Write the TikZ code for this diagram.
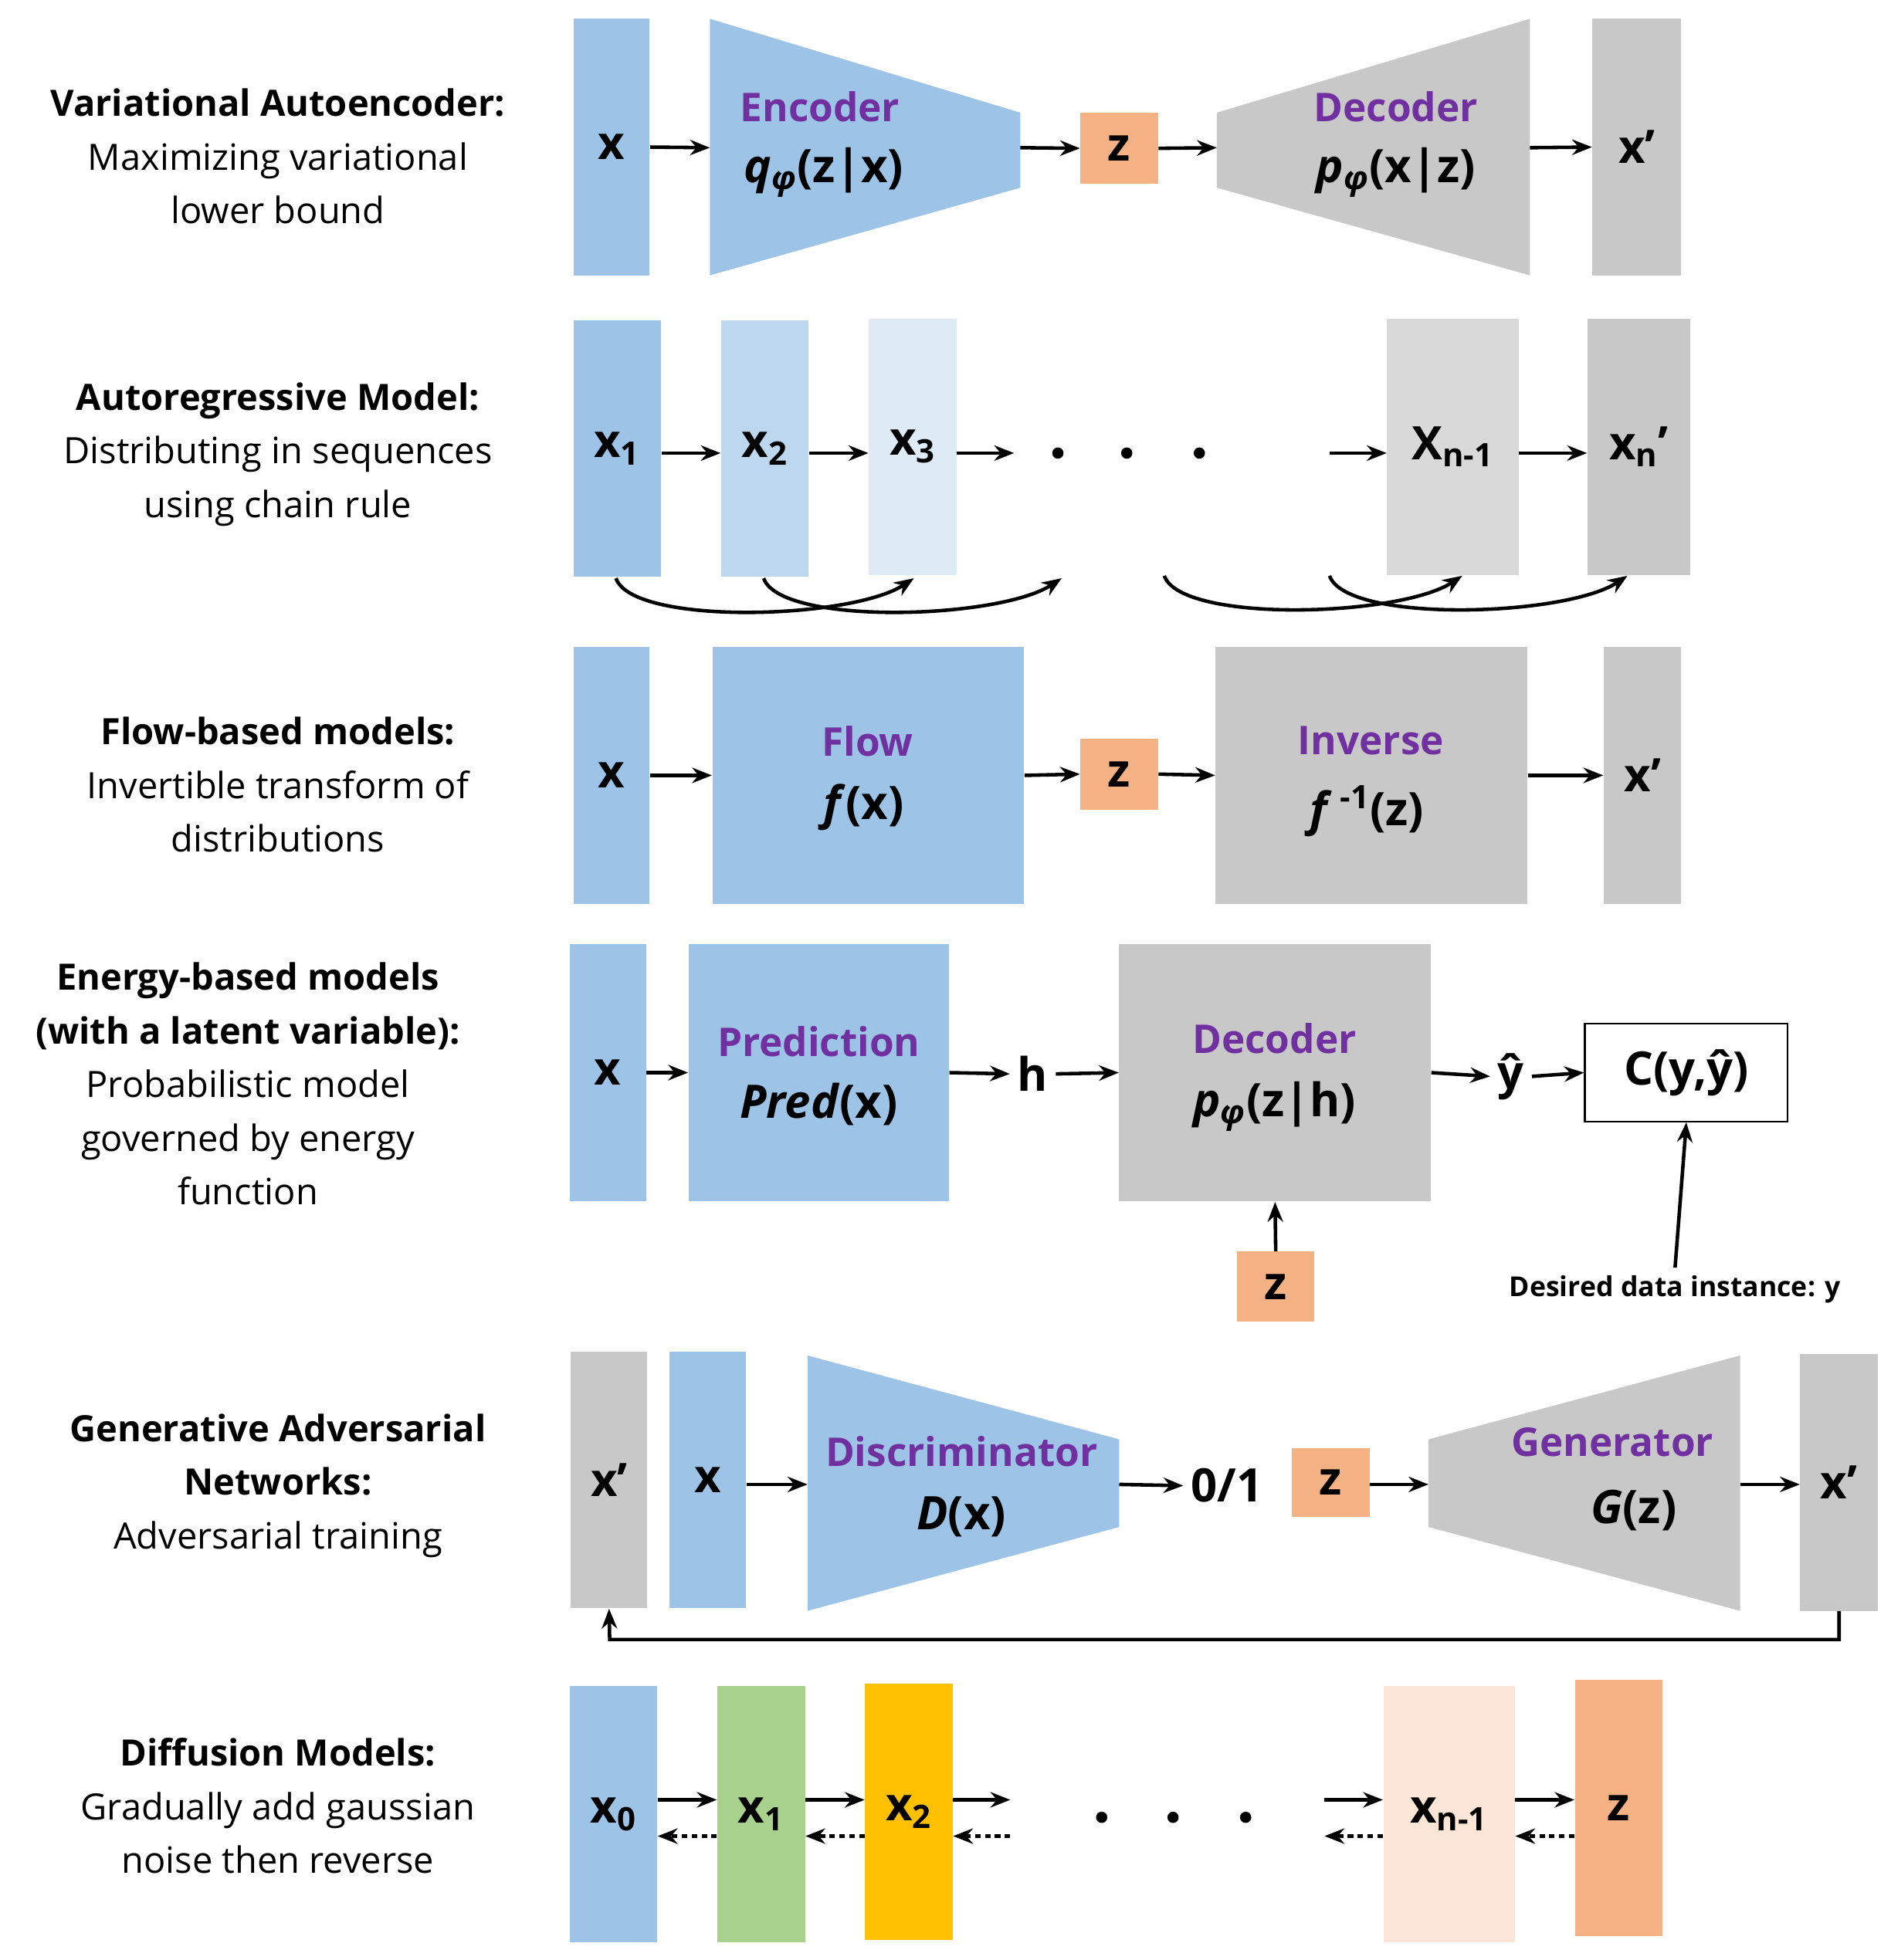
\documentclass[tikz,border=0pt]{standalone}
\usepackage{fontspec}
\setmainfont{Open Sans}
\usetikzlibrary{arrows.meta}
\definecolor{cblue}{HTML}{9DC3E6}
\definecolor{cblue2}{HTML}{BDD7EE}
\definecolor{cblue3}{HTML}{DEEBF7}
\definecolor{cgray}{HTML}{C8C8C8}
\definecolor{cgray2}{HTML}{D9D9D9}
\definecolor{corange}{HTML}{F4B183}
\definecolor{cpurple}{HTML}{7030A0}
\definecolor{cgreen}{HTML}{A9D18E}
\definecolor{cgold}{HTML}{FFC000}
\definecolor{cpeach}{HTML}{FBE5D6}
\tikzset{
 box/.style 2 args={draw=none,inner sep=0pt,minimum width=#1*0.02cm,minimum height=#2*0.02cm},
 arr/.style={-{Stealth[length=9pt,width=7pt]},line width=1.6pt},
 darr/.style={arr,dash pattern=on 2.5pt off 2pt},
 sym/.style={font=\fontsize{21}{24}\selectfont\bfseries},
 ttl/.style={font=\fontsize{18}{22}\selectfont\bfseries,text=cpurple},
 side/.style={align=center,font=\fontsize{16.5}{24.4}\selectfont}
}
\begin{document}
\begin{tikzpicture}[x=0.02cm,y=-0.02cm]
\useasboundingbox (0,0) rectangle (1510,1566);
% ---------- Row 1 VAE
\node[side] (t1) at (222,125) {\textbf{Variational Autoencoder:}\\Maximizing variational\\lower bound};
\node[box={61}{205},fill=cblue] (vx) at (488.5,117.5) {};
\fill[cblue] (567,15) -- (815,90) -- (815,150) -- (567,220) -- cycle;
\coordinate (encL) at (567,118); \coordinate (encR) at (815,118);
\node[ttl] (enct) at (655,85) {Encoder};
\node[sym] (encf) at (658,138) {\textit{q}\textsubscript{\textit{φ}}(z|x)};
\node[box={62}{57},fill=corange] (vz) at (894,118.5) {};
\fill[cgray] (972,90) -- (1222,15) -- (1222,220) -- (972,150) -- cycle;
\coordinate (decL) at (972,118); \coordinate (decR) at (1222,118);
\node[ttl] (dect) at (1115,85) {Decoder};
\node[sym] (decf) at (1115,138) {\textit{p}\textsubscript{\textit{φ}}(x|z)};
\node[box={71}{205},fill=cgray] (vx2) at (1307.5,117.5) {};
\node[sym] at (vx) {x};
\node[sym] at (vz) {z};
\node[sym] at (vx2) {x’};
\draw[arr] (vx.east) -- (encL);
\draw[arr] (encR) -- (vz.west);
\draw[arr] (vz.east) -- (decL);
\draw[arr] (decR) -- (vx2.west);
% ---------- Row 2 AR
\node[side] (t2) at (222,363) {\textbf{Autoregressive Model:}\\Distributing in sequences\\using chain rule};
\node[box={70}{205},fill=cblue,sym] (a1) at (493,358.5) {x\textsubscript{1}};
\node[box={70}{205},fill=cblue2,sym] (a2) at (611,358.5) {x\textsubscript{2}};
\node[box={70}{205},fill=cblue3,sym] (a3) at (729,357) {x\textsubscript{3}};
\node[box={105}{205},fill=cgray2,sym] (an1) at (1160.5,357) {X\textsubscript{n-1}};
\node[box={82}{205},fill=cgray,sym] (an) at (1309,357) {x\textsubscript{n}’};
\foreach \i/\xx in {1/845,2/900,3/958} \fill (\xx,362) circle (4.5);
\coordinate (ad) at (810,362); \coordinate (ad2) at (1062,362);
\draw[arr] (a1.east |- ad) -- (a2.west |- ad);
\draw[arr] (a2.east |- ad) -- (a3.west |- ad);
\draw[arr] (a3.east |- ad) -- (ad);
\draw[arr] (ad2) -- (an1.west |- ad);
\draw[arr] (an1.east |- ad) -- (an.west |- ad);
\coordinate (c1) at (492,462); \coordinate (c2) at (730,462);
\coordinate (c3) at (610,462); \coordinate (c4) at (848,462);
\coordinate (c5) at (930,460); \coordinate (c6) at (1168,460);
\coordinate (c7) at (1062,460); \coordinate (c8) at (1300,460);
\draw[arr] (c1) .. controls (505,500) and (680,495) .. (c2);
\draw[arr] (c3) .. controls (623,500) and (798,495) .. (c4);
\draw[arr] (c5) .. controls (943,498) and (1118,493) .. (c6);
\draw[arr] (c7) .. controls (1075,498) and (1250,493) .. (c8);
% ---------- Row 3 Flow
\node[side] (t3) at (222,627) {\textbf{Flow-based models:}\\Invertible transform of\\distributions};
\node[box={61}{205},fill=cblue,sym] (fx) at (488.5,619.5) {x};
\node[box={249}{205},fill=cblue] (fl) at (693.5,619.5) {};
\node[ttl] at (693,592) {Flow};
\node[sym] at (690,645) {\textit{f}(x)};
\node[box={62}{57},fill=corange,sym] (fz) at (894,618.5) {z};
\node[box={249}{205},fill=cgray] (inv) at (1095.5,619.5) {};
\node[ttl] at (1095,592) {Inverse};
\node[sym] at (1092,648) {\textit{f}\,\textsuperscript{-1}(z)};
\node[box={62}{205},fill=cgray,sym] (fx2) at (1312,619.5) {x’};
\draw[arr] (fx.east) -- (fl.west);
\draw[arr] (fl.east) -- (fz.west);
\draw[arr] (fz.east) -- (inv.west);
\draw[arr] (inv.east) -- (fx2.west);
% ---------- Row 4 Energy
\node[side] (t4) at (198,866) {\textbf{Energy-based models}\\\textbf{(with a latent variable):}\\Probabilistic model\\governed by energy\\function};
\node[box={61}{206},fill=cblue,sym] (ex) at (485.5,857) {x};
\node[box={208}{206},fill=cblue] (pr) at (654,857) {};
\node[ttl] at (654,832) {Prediction};
\node[sym] at (654,882) {\textit{Pred}(x)};
\node[sym] (eh) at (825,858) {h};
\node[box={249}{206},fill=cgray] (ed) at (1018.5,857) {};
\node[ttl] at (1018,830) {Decoder};
\node[sym] at (1018,884) {\textit{p}\textsubscript{\textit{φ}}(z|h)};
\node[sym] (ey) at (1207,860) {ŷ};
\node[box={162}{78},draw=black,line width=0.8pt,fill=white,sym] (cb) at (1347,857) {C(y,ŷ)};
\node[box={62}{56},fill=corange,sym] (ez) at (1019,1028) {z};
\node[font=\fontsize{12.5}{15}\selectfont\bfseries] (des) at (1338,1030) {Desired data instance: y};
\draw[arr] (ex.east) -- (pr.west);
\draw[arr] (pr.east) -- (eh.west);
\draw[arr] (eh.east) -- (ed.west);
\draw[arr] (ed.east) -- (ey.west);
\draw[arr] (ey.east) -- (cb.west);
\draw[arr] (ez.north) -- (ed.south);
\draw[arr] (des.north) -- (cb.south);
% ---------- Row 5 GAN
\node[side] (t5) at (222,1187) {\textbf{Generative Adversarial}\\\textbf{Networks:}\\Adversarial training};
\node[box={61}{205},fill=cgray,sym] (gx2) at (486.5,1182.5) {x’};
\node[box={61}{205},fill=cblue,sym] (gx) at (565.5,1182.5) {x};
\fill[cblue] (645,1083) -- (894,1150) -- (894,1220) -- (645,1287) -- cycle;
\coordinate (disL) at (645,1186); \coordinate (disR) at (894,1186);
\node[ttl] at (768,1160) {Discriminator};
\node[sym] at (768,1212) {\textit{D}(x)};
\node[sym] (g01) at (980,1187) {0/1};
\node[box={62}{55},fill=corange,sym] (gz) at (1063,1184.5) {z};
\fill[cgray] (1141,1150) -- (1390,1083) -- (1390,1287) -- (1141,1220) -- cycle;
\coordinate (genL) at (1141,1186); \coordinate (genR) at (1390,1186);
\node[ttl] at (1288,1152) {Generator};
\node[sym] at (1305,1207) {\textit{G}(z)};
\node[box={62}{205},fill=cgray,sym] (gx3) at (1469,1184.5) {x’};
\draw[arr] (gx.east |- disL) -- (disL);
\draw[arr] (disR) -- (g01.west);
\draw[arr] (gz.east |- genL) -- (genL);
\draw[arr] (genR) -- (gx3.west |- genR);
\coordinate (fb) at (487,1310);
\draw[arr] (gx3.south) -- (gx3.south |- fb) -- (fb) -- (gx2.south);
% ---------- Row 6 Diffusion
\node[side] (t6) at (222,1443) {\textbf{Diffusion Models:}\\Gradually add gaussian\\noise then reverse};
\node[box={70}{205},fill=cblue,sym] (d0) at (490,1449.5) {x\textsubscript{0}};
\node[box={70}{205},fill=cgreen,sym] (d1) at (608,1449.5) {x\textsubscript{1}};
\node[box={70}{205},fill=cgold,sym] (d2) at (726,1447.5) {x\textsubscript{2}};
\node[box={105}{205},fill=cpeach,sym] (dn1) at (1157.5,1449.5) {x\textsubscript{n-1}};
\node[box={70}{205},fill=corange,sym] (dz) at (1293,1444.5) {z};
\foreach \xx in {880,937,995} \fill (\xx,1452) circle (4.5);
\coordinate (up) at (0,1438); \coordinate (lo) at (0,1467);
\coordinate (du) at (807,1438); \coordinate (dl) at (807,1467);
\coordinate (du2) at (1058,1438); \coordinate (dl2) at (1058,1467);
\draw[arr] (d0.east |- up) -- (d1.west |- up);
\draw[arr] (d1.east |- up) -- (d2.west |- up);
\draw[arr] (d2.east |- up) -- (du);
\draw[arr] (du2) -- (dn1.west |- up);
\draw[arr] (dn1.east |- up) -- (dz.west |- up);
\draw[darr] (d1.west |- lo) -- (d0.east |- lo);
\draw[darr] (d2.west |- lo) -- (d1.east |- lo);
\draw[darr] (dl) -- (d2.east |- lo);
\draw[darr] (dn1.west |- lo) -- (dl2);
\draw[darr] (dz.west |- lo) -- (dn1.east |- lo);
\end{tikzpicture}
\end{document}
